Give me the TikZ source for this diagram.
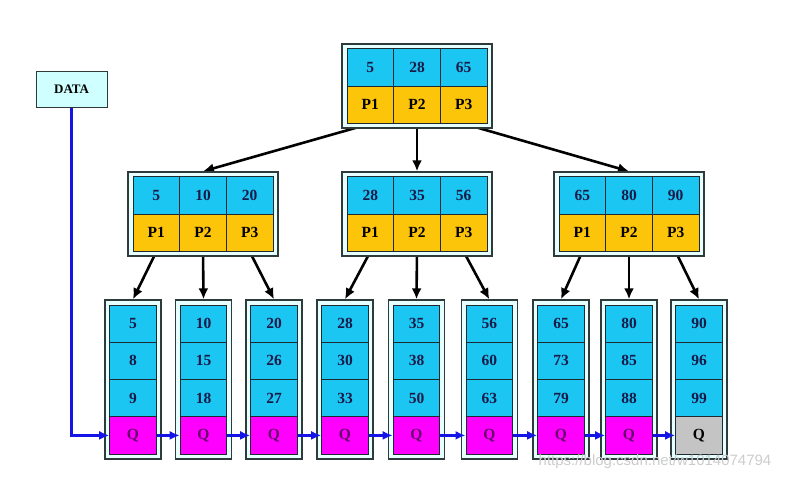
\documentclass[tikz,border=0pt]{standalone}
\usepackage{fontspec}
\setmainfont{Liberation Serif}
\setsansfont{Liberation Sans}
\usetikzlibrary{arrows.meta,backgrounds}
\definecolor{KeyCyan}{HTML}{1CC6F2}
\definecolor{PtrGold}{HTML}{FCC509}
\definecolor{LinkMagenta}{HTML}{FF00FF}
\definecolor{LastGray}{HTML}{C4C4C4}
\definecolor{FrameFill}{HTML}{E6FFFF}
\definecolor{DataFill}{HTML}{CFFFFF}
\definecolor{FrameLine}{HTML}{2F3B3B}
\definecolor{CellLine}{HTML}{1E2A30}
\definecolor{KeyText}{HTML}{1A1A48}
\definecolor{LinkText}{HTML}{66086A}
\definecolor{LinkBlue}{HTML}{1414E6}

\begin{document}
\begin{tikzpicture}[
	x=1pt, y=-1pt, % pixel-like coordinates, y grows downwards
	% Style for the outer frame round each tree node
	frame/.style={
		draw=FrameLine, 
		fill=FrameFill, 
		line width=1.4pt, 
		minimum width=150pt, 
		minimum height=84pt, 
		inner sep=0pt
	},
	leaf frame/.style={
		frame, 
		minimum width=56pt, 
		minimum height=159pt
	},
	% Styles for the coloured cells
	cell/.style={
		draw=CellLine, 
		line width=0.9pt, 
		minimum width=46.7pt, 
		minimum height=37.3pt, 
		inner sep=0pt, 
		font=\bfseries\fontsize{15.5}{15.5}\selectfont
	},
	key cell/.style={cell, fill=KeyCyan, text=KeyText},
	ptr cell/.style={cell, fill=PtrGold, text=black},
	data box/.style={
		draw=FrameLine, 
		fill=DataFill, 
		line width=1.2pt, 
		minimum width=71pt, 
		minimum height=36pt, 
		font=\bfseries\fontsize{13}{13}\selectfont
	},
	% Styles for the connectors
	tree edge/.style={
		draw=black, 
		line width=2.6pt, 
		-{Latex[length=11pt,width=10pt]}
	},
	leaf link/.style={
		draw=LinkBlue, 
		line width=2.8pt, 
		-{Latex[length=10pt,width=9pt]}
	}
	]
	\useasboundingbox (0,0) rectangle (788,480);
	
	% ================= INNER NODES =================
	\foreach \n/\x/\y/\a/\b/\c in {root/417/86/5/28/65, midL/203/214/5/10/20,
		midC/417/214/28/35/56, midR/629/214/65/80/90} {
		\node[frame] (\n) at (\x,\y) {};
		\node[key cell] (\n-k1) at (\x-46.7,\y-18.6) {\a};
		\node[key cell] (\n-k2) at (\x,\y-18.6) {\b};
		\node[key cell] (\n-k3) at (\x+46.7,\y-18.6) {\c};
		\node[ptr cell] (\n-p1) at (\x-46.7,\y+18.6) {P1};
		\node[ptr cell] (\n-p2) at (\x,\y+18.6) {P2};
		\node[ptr cell] (\n-p3) at (\x+46.7,\y+18.6) {P3};
	}
	
	% ================= LEAVES =================
	\foreach \i/\x/\a/\b/\c/\qc/\qt in {1/133/5/8/9/LinkMagenta/LinkText,
		2/203.5/10/15/18/LinkMagenta/LinkText, 3/274/20/26/27/LinkMagenta/LinkText,
		4/345/28/30/33/LinkMagenta/LinkText, 5/416.5/35/38/50/LinkMagenta/LinkText,
		6/489.3/56/60/63/LinkMagenta/LinkText, 7/561/65/73/79/LinkMagenta/LinkText,
		8/629/80/85/88/LinkMagenta/LinkText, 9/699/90/96/99/LastGray/black} {
		\node[leaf frame] (leaf\i) at (\x,379.5) {};
		\node[key cell] (leaf\i a) at (\x,323.6) {\a};
		\node[key cell] (leaf\i b) at (\x,360.9) {\b};
		\node[key cell] (leaf\i c) at (\x,398.1) {\c};
		\node[cell, fill=\qc, text=\qt] (leaf\i q) at (\x,435.4) {Q};
	}
	
	\node[data box] (data) at (71.6,89.7) {DATA};
	\node[text=gray!40, font=\sffamily\fontsize{15}{15}\selectfont] (watermark) at (655,462) {https://blog.csdn.net/w1014074794};
	
	% ================= EDGES =================
	\begin{scope}[on background layer]
		\draw[tree edge] (root-p1.south) -- (midL.north);
		\draw[tree edge] (root-p2.south) -- (midC.north);
		\draw[tree edge] (root-p3.south) -- (midR.north);
		\draw[tree edge] (midL-p1.south) -- (leaf1.north);
		\draw[tree edge] (midL-p2.south) -- (leaf2.north);
		\draw[tree edge] (midL-p3.south) -- (leaf3.north);
		\draw[tree edge] (midC-p1.south) -- (leaf4.north);
		\draw[tree edge] (midC-p2.south) -- (leaf5.north);
		\draw[tree edge] (midC-p3.south) -- (leaf6.north);
		\draw[tree edge] (midR-p1.south) -- (leaf7.north);
		\draw[tree edge] (midR-p2.south) -- (leaf8.north);
		\draw[tree edge] (midR-p3.south) -- (leaf9.north);
	\end{scope}
	
	% leaf chain
	\draw[leaf link] (data) |- (leaf1q);
	\foreach \i [count=\j from 2] in {1,...,8}
		\draw[leaf link] (leaf\i q) -- (leaf\j q);
	
\end{tikzpicture}
\end{document}
